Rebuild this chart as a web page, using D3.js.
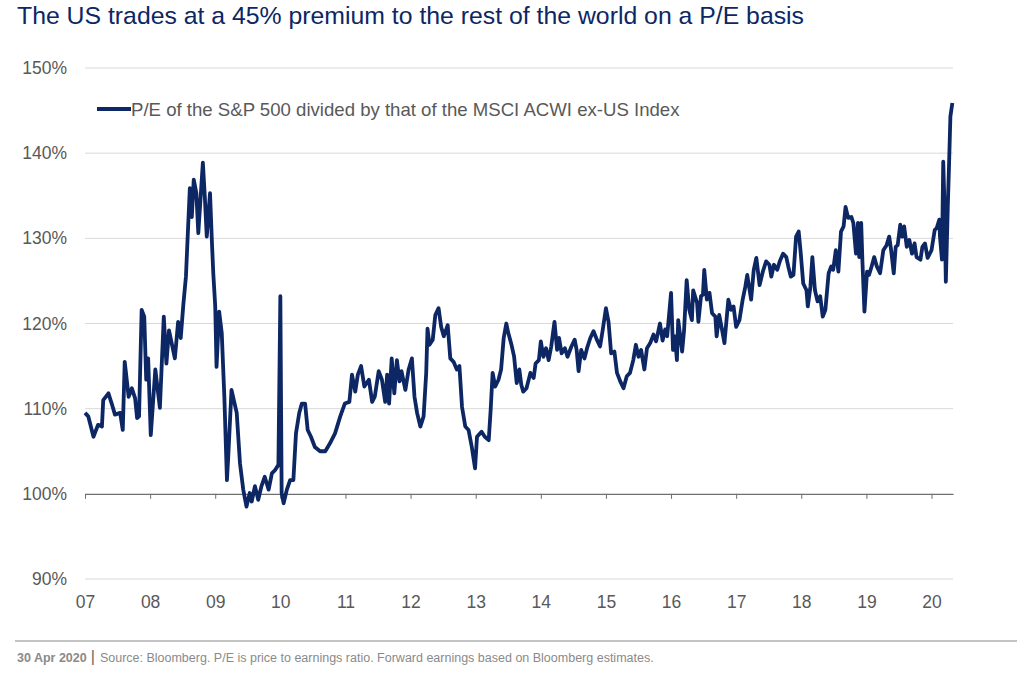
<!DOCTYPE html>
<html>
<head>
<meta charset="utf-8">
<script src="https://cdn.jsdelivr.net/npm/d3@7"></script>
<style>
  body { margin: 0; background: #fff; }
  svg { display: block; font-family: "Liberation Sans", Arial, sans-serif; }
</style>
</head>
<body>
<svg id="chart" width="1024" height="677"></svg>
<script>
/* Decimal years */
let years = [
  2007.00, 2007.05, 2007.13, 2007.20, 2007.26, 2007.28, 2007.36, 2007.41, 2007.46, 2007.54,
  2007.58, 2007.61, 2007.67, 2007.72, 2007.77, 2007.80, 2007.83, 2007.87, 2007.91, 2007.94,
  2007.97, 2008.01, 2008.08, 2008.15, 2008.21, 2008.25, 2008.29, 2008.38, 2008.43, 2008.47,
  2008.51, 2008.55, 2008.57, 2008.61, 2008.64, 2008.67, 2008.71, 2008.74, 2008.81, 2008.84,
  2008.87, 2008.92, 2008.95, 2008.97, 2009.00, 2009.02, 2009.06, 2009.10, 2009.14, 2009.18,
  2009.20, 2009.25, 2009.33, 2009.38, 2009.43, 2009.48, 2009.53, 2009.56, 2009.61, 2009.66,
  2009.71, 2009.76, 2009.82, 2009.87, 2009.92, 2009.97, 2010.00, 2010.02, 2010.05, 2010.10,
  2010.15, 2010.20, 2010.24, 2010.29, 2010.33, 2010.38, 2010.42, 2010.47, 2010.53, 2010.61,
  2010.69, 2010.76, 2010.84, 2010.92, 2010.99, 2011.06, 2011.10, 2011.15, 2011.19, 2011.24,
  2011.29, 2011.36, 2011.41, 2011.45, 2011.51, 2011.56, 2011.61, 2011.64, 2011.67, 2011.71,
  2011.75, 2011.79, 2011.83, 2011.86, 2011.92, 2011.97, 2012.02, 2012.06, 2012.10, 2012.15,
  2012.20, 2012.24, 2012.26, 2012.29, 2012.34, 2012.38, 2012.43, 2012.47, 2012.51, 2012.57,
  2012.61, 2012.66, 2012.71, 2012.75, 2012.79, 2012.84, 2012.89, 2012.94, 2012.99, 2013.02,
  2013.09, 2013.14, 2013.20, 2013.23, 2013.26, 2013.30, 2013.35, 2013.39, 2013.43, 2013.47,
  2013.50, 2013.55, 2013.59, 2013.63, 2013.67, 2013.70, 2013.73, 2013.78, 2013.84, 2013.89,
  2013.92, 2013.97, 2014.00, 2014.04, 2014.08, 2014.12, 2014.16, 2014.21, 2014.25, 2014.28,
  2014.32, 2014.37, 2014.41, 2014.47, 2014.52, 2014.55, 2014.58, 2014.62, 2014.67, 2014.71,
  2014.76, 2014.81, 2014.86, 2014.91, 2014.95, 2015.00, 2015.04, 2015.08, 2015.13, 2015.17,
  2015.22, 2015.27, 2015.32, 2015.37, 2015.42, 2015.46, 2015.50, 2015.54, 2015.59, 2015.63,
  2015.68, 2015.73, 2015.77, 2015.83, 2015.87, 2015.91, 2015.94, 2016.00, 2016.03, 2016.06,
  2016.09, 2016.11, 2016.17, 2016.20, 2016.24, 2016.28, 2016.32, 2016.34, 2016.40, 2016.42,
  2016.46, 2016.49, 2016.51, 2016.55, 2016.59, 2016.63, 2016.68, 2016.70, 2016.74, 2016.78,
  2016.82, 2016.88, 2016.92, 2016.96, 2017.00, 2017.05, 2017.10, 2017.14, 2017.17, 2017.23,
  2017.27, 2017.31, 2017.36, 2017.41, 2017.46, 2017.51, 2017.54, 2017.58, 2017.63, 2017.67,
  2017.72, 2017.77, 2017.80, 2017.84, 2017.88, 2017.92, 2017.96, 2017.99, 2018.03, 2018.08,
  2018.10, 2018.14, 2018.17, 2018.21, 2018.25, 2018.29, 2018.33, 2018.37, 2018.42, 2018.46,
  2018.49, 2018.53, 2018.57, 2018.61, 2018.65, 2018.68, 2018.72, 2018.77, 2018.80, 2018.84,
  2018.87, 2018.89, 2018.92, 2018.94, 2018.97, 2019.01, 2019.04, 2019.08, 2019.12, 2019.16,
  2019.21, 2019.26, 2019.31, 2019.35, 2019.38, 2019.42, 2019.45, 2019.48, 2019.52, 2019.55,
  2019.58, 2019.62, 2019.66, 2019.70, 2019.74, 2019.77, 2019.83, 2019.86, 2019.90, 2019.94,
  2020.00, 2020.05, 2020.08, 2020.12, 2020.13, 2020.16, 2020.18, 2020.20, 2020.22, 2020.25,
  2020.27, 2020.29, 2020.32
];

/* P/E of S&P 500 / P/E of MSCI ACWI ex-US, in % */
let ratio = [
  109.5, 109.1, 106.7, 108.1, 107.9, 111.0, 111.8, 110.6, 109.3, 109.5,
  107.5, 115.5, 111.4, 112.4, 111.2, 108.9, 109.1, 121.6, 120.8, 113.4,
  115.9, 106.9, 114.6, 110.1, 120.8, 115.3, 119.2, 115.9, 120.2, 118.3,
  122.2, 125.5, 129.0, 135.9, 132.5, 136.9, 135.3, 130.6, 138.9, 134.9,
  130.2, 135.3, 129.4, 125.9, 122.0, 114.9, 121.4, 118.9, 111.4, 101.6,
  104.4, 112.2, 109.5, 103.6, 100.5, 98.5, 100.1, 99.1, 100.9, 99.3,
  100.9, 102.0, 100.5, 102.4, 102.8, 103.4, 123.2, 100.1, 98.9, 100.5,
  101.6, 101.6, 107.1, 109.5, 110.6, 110.6, 107.5, 106.7, 105.5, 105.0,
  105.0, 105.9, 107.1, 109.1, 110.6, 110.8, 114.0, 112.0, 114.0, 115.0,
  112.6, 113.4, 110.8, 111.4, 114.4, 113.4, 110.8, 114.0, 110.6, 115.9,
  111.8, 115.7, 113.2, 114.4, 112.2, 114.6, 115.9, 111.4, 109.5, 107.9,
  109.1, 114.2, 119.4, 117.5, 118.1, 121.0, 121.8, 119.6, 118.5, 119.8,
  115.9, 115.5, 114.6, 115.0, 110.2, 107.9, 107.5, 105.5, 103.0, 106.7,
  107.3, 106.7, 106.3, 109.9, 114.2, 112.6, 113.4, 114.6, 118.3, 120.0,
  118.9, 117.5, 116.1, 113.0, 114.6, 112.8, 112.0, 112.4, 114.2, 113.6,
  115.3, 115.7, 117.9, 116.1, 117.1, 115.7, 117.3, 120.2, 116.9, 118.3,
  116.5, 117.1, 116.1, 117.3, 118.1, 116.9, 114.4, 116.9, 115.9, 117.1,
  118.3, 119.1, 118.1, 117.3, 119.2, 121.8, 120.2, 116.5, 116.7, 114.2,
  113.2, 112.4, 113.8, 114.2, 115.7, 117.5, 116.1, 116.9, 114.6, 117.1,
  117.7, 118.7, 117.9, 120.0, 118.0, 119.3, 118.5, 123.6, 116.9, 118.5,
  115.7, 120.4, 116.7, 119.2, 125.1, 121.6, 120.4, 123.9, 122.4, 120.2,
  123.2, 123.4, 126.3, 122.8, 123.6, 121.2, 120.8, 118.5, 121.0, 119.4,
  117.7, 122.8, 121.6, 122.0, 119.6, 120.4, 122.8, 124.3, 125.7, 122.8,
  126.3, 127.7, 124.5, 126.1, 127.3, 126.9, 125.5, 126.9, 126.3, 127.3,
  128.2, 127.8, 126.7, 125.5, 125.7, 130.2, 130.8, 128.4, 124.7, 123.9,
  122.0, 124.3, 127.8, 123.9, 122.6, 123.2, 120.8, 121.6, 125.9, 126.7,
  126.3, 128.6, 126.1, 130.8, 131.4, 133.7, 132.4, 132.5, 131.8, 128.2,
  131.8, 127.8, 131.8, 127.1, 121.4, 126.1, 125.7, 126.7, 127.8, 126.7,
  125.9, 128.6, 129.2, 130.2, 128.6, 125.9, 129.0, 129.2, 131.6, 130.2,
  131.4, 129.0, 129.8, 128.2, 129.4, 127.8, 127.5, 129.0, 129.4, 127.7,
  128.6, 131.0, 131.2, 132.2, 130.2, 127.5, 139.0, 133.7, 124.9, 133.7,
  138.8, 144.3, 145.9
];

let yTicks = [90, 100, 110, 120, 130, 140, 150];
let xTicks = [2007, 2008, 2009, 2010, 2011, 2012, 2013, 2014, 2015, 2016, 2017, 2018, 2019, 2020];
let xTickLabels = ['07', '08', '09', '10', '11', '12', '13', '14', '15', '16', '17', '18', '19', '20'];

let navy = '#0c2764';
let grey = '#595959';

let svg = d3.select('#chart');

/* Scales: plot area runs from x=85 to 953, y=68 (150%) to 579 (90%) */
let x = d3.scaleLinear()
    .domain([2007, 2020.33])
    .range([85, 953]);
let y = d3.scaleLinear()
    .domain([90, 150])
    .range([579, 68]);

/* Title */
svg.append('text')
    .attr('x', 17)
    .attr('y', 24)
    .attr('fill', navy)
    .style('font-size', '24.8px')
    .text('The US trades at a 45% premium to the rest of the world on a P/E basis');

/* Horizontal gridlines (100% line is drawn as the axis) */
svg.append('g')
    .selectAll('line')
    .data(yTicks.filter(d => d !== 100))
    .enter()
    .append('line')
    .attr('x1', x.range()[0])
    .attr('x2', x.range()[1])
    .attr('y1', d => y(d))
    .attr('y2', d => y(d))
    .attr('stroke', '#d9d9d9')
    .attr('stroke-width', 1);

/* Y axis labels */
let yAxis = svg.append('g')
    .attr('transform', 'translate(67,0)')
    .call(d3.axisLeft(y).tickValues(yTicks).tickSize(0).tickFormat(d => d + '%'));
yAxis.select('.domain').remove();
yAxis.selectAll('text')
    .attr('fill', grey)
    .attr('x', 0)
    .style('font-size', '17.5px')
    .style('font-family', '"Liberation Sans", Arial, sans-serif');

/* X axis line sits on 100% with ticks pointing down */
let xAxisLine = svg.append('g')
    .attr('transform', `translate(0,${y(100)})`)
    .call(d3.axisBottom(x).tickValues(xTicks).tickSize(5).tickSizeOuter(0).tickFormat(''));
xAxisLine.select('.domain').attr('stroke', '#6f6f6f').attr('stroke-width', 1.2);
xAxisLine.selectAll('.tick line').attr('stroke', '#6f6f6f');

/* X axis labels under the 90% gridline */
let xAxis = svg.append('g')
    .attr('transform', `translate(0,${y(90)})`)
    .call(d3.axisBottom(x).tickValues(xTicks).tickSize(0).tickFormat((d, i) => xTickLabels[i]));
xAxis.select('.domain').remove();
xAxis.selectAll('text')
    .attr('fill', grey)
    .attr('y', 17)
    .style('font-size', '17.5px')
    .style('font-family', '"Liberation Sans", Arial, sans-serif');

/* Series line */
let line = d3.line()
    .x((d, i) => x(years[i]))
    .y(d => y(d));

svg.append('path')
    .datum(ratio)
    .attr('d', line)
    .attr('fill', 'none')
    .attr('stroke', navy)
    .attr('stroke-width', 3.8)
    .attr('stroke-linejoin', 'round');

/* Legend */
let legend = svg.append('g').attr('transform', 'translate(97,109)');
legend.append('line')
    .attr('x1', 0)
    .attr('x2', 34)
    .attr('stroke', navy)
    .attr('stroke-width', 4);
legend.append('text')
    .attr('x', 34)
    .attr('y', 7)
    .attr('fill', grey)
    .style('font-size', '18.6px')
    .text('P/E of the S&P 500 divided by that of the MSCI ACWI ex-US Index');

/* Footer */
svg.append('line')
    .attr('x1', 15)
    .attr('x2', 1017)
    .attr('y1', 641)
    .attr('y2', 641)
    .attr('stroke', '#c4c4c4')
    .attr('stroke-width', 2);

let footer = svg.append('text')
    .attr('x', 17)
    .attr('y', 662)
    .attr('fill', '#8a8a8a')
    .style('font-size', '12.5px');
footer.append('tspan')
    .style('font-weight', 'bold')
    .text('30 Apr 2020');
footer.append('tspan')
    .attr('dx', 4)
    .style('font-size', '16px')
    .attr('fill', '#666')
    .text('|');
footer.append('tspan')
    .attr('dx', 5)
    .text('Source: Bloomberg. P/E is price to earnings ratio. Forward earnings based on Bloomberg estimates.');
</script>
</body>
</html>
